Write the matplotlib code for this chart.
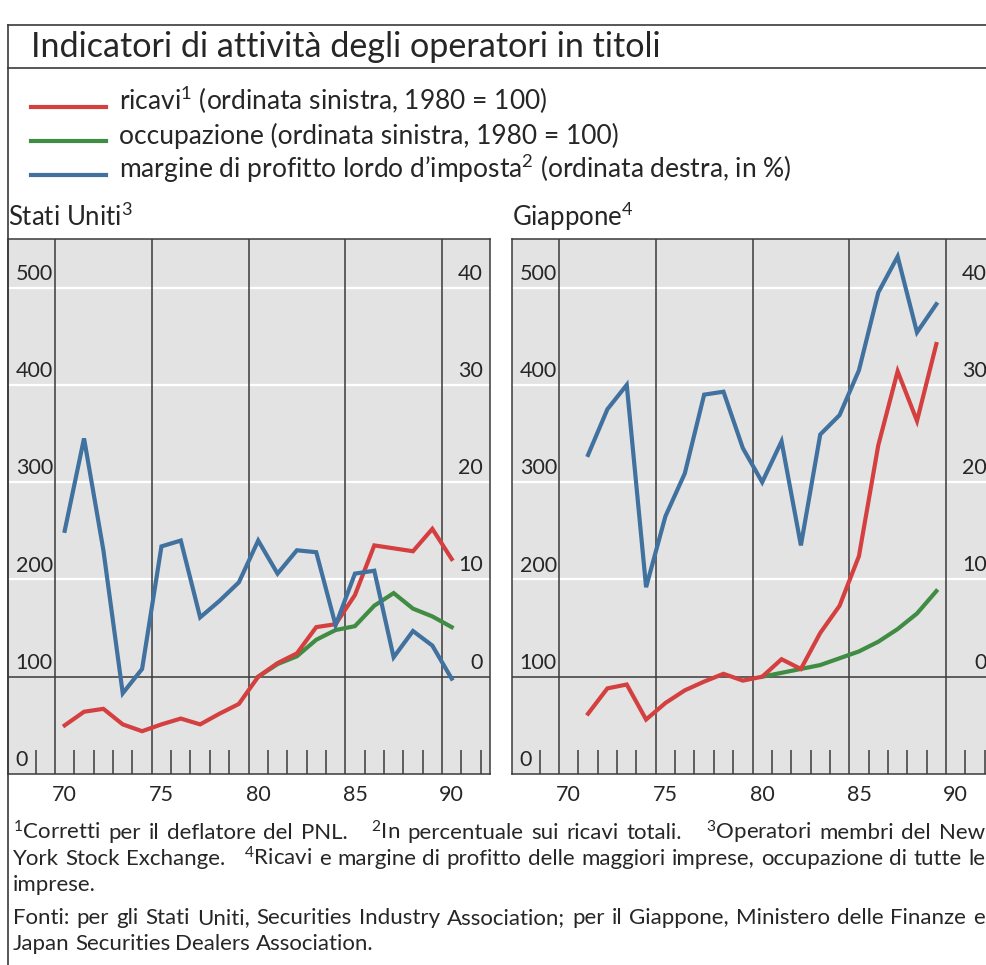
import matplotlib
matplotlib.use('Agg')
import matplotlib.pyplot as plt
from matplotlib.lines import Line2D
from matplotlib import transforms
import numpy as np

plt.rcParams['font.family'] = ['Lato', 'DejaVu Sans']
plt.rcParams['mathtext.fontset'] = 'custom'
plt.rcParams['mathtext.rm'] = 'Lato'
plt.rcParams['mathtext.it'] = 'Lato:italic'
plt.rcParams['mathtext.default'] = 'regular'

# --- data ---
us_years = list(range(1970, 1991))
us_ricavi = [50, 64, 67, 51, 44, 51, 57, 51, 62, 72, 100,
             114, 124, 151, 154, 184, 235, 232, 229, 252, 221]
us_occ_years = list(range(1980, 1991))
us_occup = [100, 113, 121, 138, 148, 152, 173, 186, 170, 162, 151]
us_margine = [15.0, 24.5, 13.0, -1.7, 0.8, 13.4, 14.0, 6.1, 7.8, 9.7, 14.0,
              10.6, 13.0, 12.8, 5.3, 10.6, 10.9, 2.0, 4.7, 3.2, -0.2]

jp_years = list(range(1971, 1990))
jp_ricavi = [62, 88, 92, 56, 73, 86, 95, 103, 96, 100,
             118, 108, 145, 173, 224, 338, 414, 363, 442]
jp_occ_years = list(range(1980, 1990))
jp_occup = [100, 104, 108, 112, 119, 126, 136, 149, 165, 188]
jp_margine = [22.8, 27.5, 30.0, 9.2, 16.5, 20.9, 29.0, 29.3, 23.5, 20.0,
              24.2, 13.5, 24.9, 26.9, 31.5, 39.5, 43.2, 35.4, 38.3]

left_ticks = [0, 100, 200, 300, 400, 500]
right_ticks = [0, 10, 20, 30, 40]
year_labels = [1970, 1975, 1980, 1985, 1990]

RED = '#d4403f'
GREEN = '#3f8c42'
BLUE = '#41719e'
INK = '#262626'

W, H = 987, 965
fig = plt.figure(figsize=(W / 100, H / 100), dpi=100)


def fx(x):
    return x / W


def fy(y):
    return 1 - y / H


def panel(ax, years, ricavi, occ_years, occup, margine):
    ax.set_facecolor('#e3e3e3')
    ax.set_xlim(1967.57, 1992.48)
    ax.set_ylim(0, 550)
    for v in left_ticks[2:]:
        ax.axhline(v, color='white', lw=1.6, zorder=1)
    ax.axhline(100, color='#3a3a3a', lw=1.1, zorder=2)
    for yr in year_labels:
        ax.axvline(yr, color='#3a3a3a', lw=1.1, zorder=2)
    ax.set_xticks([y + 0.5 for y in year_labels])
    ax.set_xticklabels([str(y)[2:] for y in year_labels])
    ax.set_xticks([y for y in range(1969, 1993) if y % 5], minor=True)
    ax.tick_params(axis='x', which='major', length=0, pad=8,
                   labelsize=15.5, labelcolor=INK)
    ax.tick_params(axis='x', which='minor', direction='in', length=17,
                   width=1.1, color='#3a3a3a')
    ax.set_yticks([])
    for s in ax.spines.values():
        s.set_color('#3a3a3a')
        s.set_linewidth(1.1)

    tl = transforms.blended_transform_factory(ax.transAxes, ax.transData)
    for v in left_ticks:
        ax.text(0.016, v + 8, str(v), transform=tl, ha='left', va='baseline',
                fontsize=15.5, color=INK)

    ax.plot(np.array(occ_years) + 0.5, occup, color=GREEN, lw=3, zorder=4,
            solid_joinstyle='miter')
    ax.plot(np.array(years) + 0.5, ricavi, color=RED, lw=3, zorder=5,
            solid_joinstyle='miter')

    tw = ax.twinx()
    tw.set_ylim(-10, 45)
    tw.set_yticks([])
    for s in tw.spines.values():
        s.set_visible(False)
    tr = transforms.blended_transform_factory(ax.transAxes, tw.transData)
    for v in right_ticks:
        tw.text(0.9855, v + 0.82, str(v), transform=tr, ha='right',
                va='baseline', fontsize=15.5, color=INK)
    tw.plot(np.array(years) + 0.5, margine, color=BLUE, lw=3, zorder=4,
            solid_joinstyle='miter')


ax_us = fig.add_axes([fx(8), fy(774), 482 / W, 535 / H])
ax_jp = fig.add_axes([fx(512), fy(774), 482 / W, 535 / H])
panel(ax_us, us_years, us_ricavi, us_occ_years, us_occup, us_margine)
panel(ax_jp, jp_years, jp_ricavi, jp_occ_years, jp_occup, jp_margine)

# frame lines
for (x0, y0, x1, y1) in [(8, 25, 987, 25), (8, 68, 987, 68), (8, 25, 8, 965)]:
    fig.add_artist(Line2D([fx(x0), fx(x1)], [fy(y0), fy(y1)],
                          color='#3a3a3a', lw=1.2))

fig.text(fx(31), fy(47), 'Indicatori di attività degli operatori in titoli',
         fontsize=24.6, color=INK, va='center', ha='left')

legend_items = [
    (RED, 'ricavi$^{1}$ (ordinata sinistra, 1980 = 100)'),
    (GREEN, 'occupazione (ordinata sinistra, 1980 = 100)'),
    (BLUE, "margine di profitto lordo d\u2019imposta$^{2}$ (ordinata destra, in %)"),
]
for i, (c, lab) in enumerate(legend_items):
    yb = 110 + 34 * i
    fig.add_artist(Line2D([fx(31), fx(106)], [fy(yb - 3), fy(yb - 3)],
                          color=c, lw=3))
    fig.text(fx(119), fy(yb), lab, fontsize=19, color=INK,
             ha='left', va='baseline')

fig.text(fx(8), fy(226), 'Stati Uniti$^{3}$', fontsize=18.5, color=INK,
         ha='left', va='baseline')
fig.text(fx(512), fy(226), 'Giappone$^{4}$', fontsize=18.5, color=INK,
         ha='left', va='baseline')

# footnotes, justified like the printed page
renderer = fig.canvas.get_renderer()
notes = [
    ('$^{1}$Corretti per il deflatore del PNL.   $^{2}$In percentuale sui ricavi totali.   $^{3}$Operatori membri del New', True),
    ('York Stock Exchange.   $^{4}$Ricavi e margine di profitto delle maggiori imprese, occupazione di tutte le', True),
    ('imprese.', False),
    ('Fonti: per gli Stati Uniti, Securities Industry Association; per il Giappone, Ministero delle Finanze e', True),
    ('Japan Securities Dealers Association.', False),
]
note_y = [839, 865, 891, 924, 950]


def draw_line(text, yb, justify, x0=13, x1=985, size=16):
    words, gaps, g = [], [], 0
    for p in text.split(' '):
        if p == '':
            g += 1
            continue
        if words:
            gaps.append(g + 1)
        words.append(p)
        g = 0
    arts = [fig.text(0, fy(yb), w, fontsize=size, color=INK,
                     ha='left', va='baseline') for w in words]
    widths = [a.get_window_extent(renderer).width for a in arts]
    if justify:
        unit = (x1 - x0 - sum(widths)) / sum(gaps)
    else:
        unit = size * 0.33
    x = x0
    for i, a in enumerate(arts):
        a.set_x(fx(x))
        x += widths[i]
        if i < len(gaps):
            x += unit * gaps[i]


for (t, j), yb in zip(notes, note_y):
    draw_line(t, yb, j)

fig.savefig('out.png', dpi=100)
